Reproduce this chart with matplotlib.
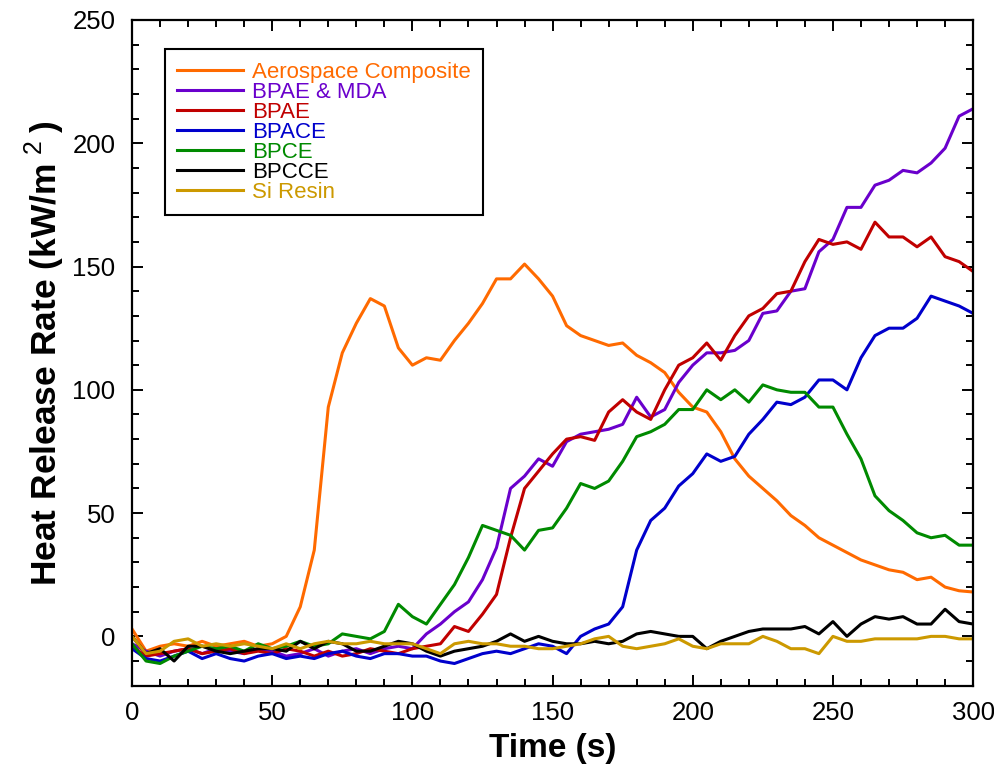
import matplotlib
matplotlib.use("Agg")
import matplotlib.pyplot as plt
import numpy as np
from matplotlib.ticker import MultipleLocator

plt.rcParams['font.family'] = ['Liberation Sans', 'DejaVu Sans']
plt.rcParams['mathtext.fontset'] = 'custom'
plt.rcParams['mathtext.rm'] = 'Liberation Sans'

# time grid (s), one reading every 5 s
time = np.arange(0, 301, 5)

names = ["Aerospace Composite", "BPAE & MDA", "BPAE", "BPACE", "BPCE", "BPCCE", "Si Resin"]
colors = ["#ff6a00", "#6a00cc", "#c00000", "#0000cc", "#008a00", "#000000", "#cc9900"]

aerospace = [3, -6, -4, -3, -4, -2, -4, -3, -2, -4, -3, 0, 12, 35, 93, 115, 127, 137, 134, 117,
             110, 113, 112, 120, 127, 135, 145, 145, 151, 145, 138, 126, 122, 120, 118, 119, 114, 111, 107, 99,
             93, 91, 83, 72, 65, 60, 55, 49, 45, 40, 37, 34, 31, 29, 27, 26, 23, 24, 20, 18.5, 18]
bpae_mda = [-3, -6, -8, -6, -5, -7, -5, -6, -7, -5, -6, -8, -7, -5, -8, -6, -5, -7, -5, -4,
            -5, 1, 5, 10, 14, 23, 36, 60, 65, 72, 69, 79, 82, 83, 84, 86, 97, 89, 92, 103,
            110, 115, 115, 116, 120, 131, 132, 140, 141, 156, 161, 174, 174, 183, 185, 189, 188, 192, 198, 211, 214]
bpae = [-4, -8, -7, -6, -5, -7, -6, -5, -7, -6, -7, -5, -6, -8, -6, -8, -7, -5, -6, -7,
        -5, -4, -3, 4, 2, 9, 17, 40, 60, 67, 74, 80, 81, 79.5, 91, 96, 91, 88, 100, 110,
        113, 119, 112, 122, 130, 133, 139, 140, 152, 161, 159, 160, 157, 168, 162, 162, 158, 162, 154, 152, 148]
bpace = [-5, -9, -10, -8, -6, -9, -7, -9, -10, -8, -7, -9, -8, -9, -7, -6, -8, -9, -7, -7,
         -8, -8, -10, -11, -9, -7, -6, -7, -5, -3, -4, -7, 0, 3, 5, 12, 35, 47, 52, 61,
         66, 74, 71, 73, 82, 88, 95, 94, 97, 104, 104, 100, 113, 122, 125, 125, 129, 138, 136, 134, 131]
bpce = [-3, -10, -11, -8, -6, -4, -5, -4, -6, -3, -5, -4, -2, -4, -3, 1, 0, -1, 2, 13,
        8, 5, 13, 21, 32, 45, 43, 41, 35, 43, 44, 52, 62, 60, 63, 71, 81, 83, 86, 92,
        92, 100, 96, 100, 95, 102, 100, 99, 99, 93, 93, 82, 72, 57, 51, 47, 42, 40, 41, 37, 37]
bpcce = [0, -7, -5, -10, -4, -4, -6, -7, -6, -5, -5, -6, -2, -5, -2, -3, -6, -6, -4, -2,
         -3, -6, -8, -6, -5, -4, -2, 1, -2, 0, -2, -3, -3, -2, -3, -2, 1, 2, 1, 0,
         0, -5, -2, 0, 2, 3, 3, 3, 4, 1, 6, 0, 5, 8, 7, 8, 5, 5, 11, 6, 5]
si_resin = [0, -7, -6, -2, -1, -4, -3, -4, -3, -4, -5, -3, -5, -3, -2, -3, -3, -2, -3, -3,
            -3, -5, -7, -3, -2, -3, -3, -4, -4, -5, -5, -4, -3, -1, 0, -4, -5, -4, -3, -1,
            -4, -5, -3, -3, -3, 0, -2, -5, -5, -7, 0, -2, -2, -1, -1, -1, -1, 0, 0, -1, -1]

series = [aerospace, bpae_mda, bpae, bpace, bpce, bpcce, si_resin]

fig = plt.figure(figsize=(9.95, 7.72), dpi=100)
ax = fig.add_axes([0.1327, 0.1118, 0.8453, 0.8623])

for vals, name, c in zip(series, names, colors):
    ax.plot(time, vals, color=c, linewidth=2.2, label=name)

ax.set_xlim(0, 300)
ax.set_ylim(-20, 250)
ax.xaxis.set_major_locator(MultipleLocator(50))
ax.xaxis.set_minor_locator(MultipleLocator(10))
ax.yaxis.set_major_locator(MultipleLocator(50))
ax.yaxis.set_minor_locator(MultipleLocator(10))
ax.tick_params(which='both', direction='in', top=True, right=True, width=1.4)
ax.tick_params(which='major', length=8, labelsize=18.5)
ax.tick_params(axis='x', which='major', pad=11)
ax.tick_params(axis='y', which='major', pad=12)
ax.tick_params(which='minor', length=5)
for s in ax.spines.values():
    s.set_linewidth(1.6)

ax.set_xlabel("Time (s)", fontsize=24, fontweight='bold', labelpad=6)
ax.set_ylabel(r"Heat Release Rate (kW/m$^{\ \rm 2\ }$)", fontsize=25.5, fontweight='bold', labelpad=4)

leg = ax.legend(loc='upper left', bbox_to_anchor=(0.039, 0.956), borderaxespad=0,
                fontsize=16, fancybox=False, framealpha=1, edgecolor='black',
                handlelength=2.95, handletextpad=0.42, labelspacing=-0.045, borderpad=0.55)
leg.get_frame().set_linewidth(1.5)
for txt, c in zip(leg.get_texts(), colors):
    txt.set_color(c)

plt.savefig("out.png", dpi=100)
